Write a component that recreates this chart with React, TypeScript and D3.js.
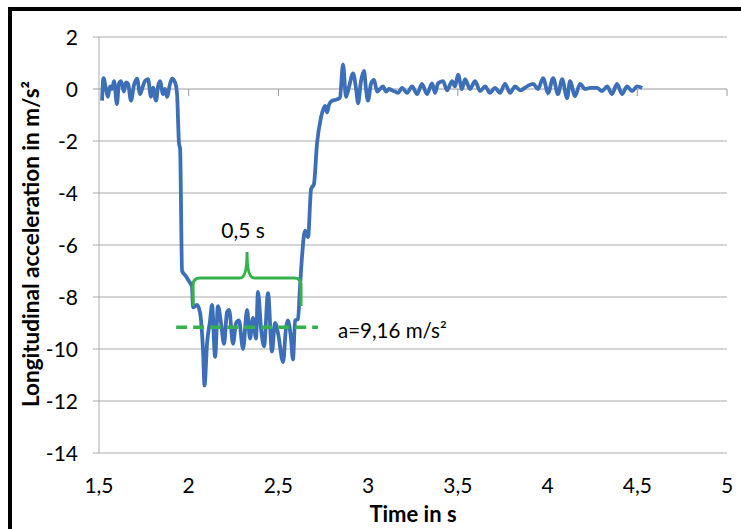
import React from "react";
import * as d3 from "d3";

const times: number[] = [
  1.517, 1.525, 1.539, 1.55, 1.561, 1.572, 1.584, 1.6, 1.611, 1.623, 1.639, 1.65, 1.662, 1.678, 1.695, 1.712,
  1.729, 1.74, 1.756, 1.773, 1.79, 1.801, 1.818, 1.829, 1.84, 1.857, 1.868, 1.879, 1.896, 1.907, 1.924, 1.935,
  1.946, 1.952, 1.963, 1.985, 2.002, 2.018, 2.024, 2.046, 2.063, 2.08, 2.088, 2.102, 2.119, 2.13, 2.147, 2.163,
  2.18, 2.197, 2.213, 2.225, 2.247, 2.264, 2.28, 2.303, 2.325, 2.342, 2.358, 2.375, 2.386, 2.403, 2.42, 2.442,
  2.464, 2.481, 2.498, 2.526, 2.542, 2.553, 2.57, 2.581, 2.593, 2.609, 2.62, 2.632, 2.648, 2.665, 2.682, 2.698,
  2.715, 2.737, 2.76, 2.771, 2.782, 2.799, 2.827, 2.843, 2.86, 2.877, 2.894, 2.916, 2.933, 2.944, 2.96, 2.977,
  2.988, 2.999, 3.016, 3.033, 3.05, 3.066, 3.083, 3.1, 3.116, 3.133, 3.15, 3.167, 3.189, 3.217, 3.245, 3.273,
  3.3, 3.328, 3.356, 3.373, 3.39, 3.417, 3.44, 3.468, 3.484, 3.501, 3.523, 3.54, 3.568, 3.596, 3.624, 3.652,
  3.679, 3.707, 3.735, 3.763, 3.791, 3.819, 3.847, 3.886, 3.919, 3.947, 3.975, 4.003, 4.031, 4.058, 4.081, 4.109,
  4.125, 4.153, 4.181, 4.209, 4.237, 4.276, 4.304, 4.332, 4.359, 4.387, 4.415, 4.443, 4.471, 4.499, 4.527,
];

const accel: number[] = [
  -0.45, 0.42, 0.0, -0.3, 0.1, 0.0, 0.3, -0.58, 0.2, 0.3, -0.1, 0.25, 0.2, -0.45, 0.15, 0.4,
  -0.2, 0.0, 0.3, 0.38, -0.3, 0.05, -0.45, 0.1, 0.3, -0.2, 0.0, -0.3, 0.2, 0.4, 0.25, -0.2,
  -2.1, -2.3, -7.0, -7.2, -7.4, -7.6, -8.4, -8.3, -8.6, -10.1, -11.4, -9.8, -8.9, -8.3, -10.3, -8.35,
  -9.0, -9.8, -8.6, -8.5, -9.8, -9.0, -8.9, -10.0, -8.5, -9.6, -8.8, -9.6, -7.8, -9.2, -9.9, -7.85,
  -10.1, -9.0, -9.4, -10.5, -9.2, -8.9, -9.6, -10.4, -8.9, -8.85, -7.65, -6.4, -5.45, -5.7, -3.85, -3.65,
  -2.1, -1.1, -0.65, -0.9, -0.6, -0.45, -0.4, -0.33, 0.95, -0.3, 0.1, 0.6, 0.0, -0.55, 0.3, 0.7,
  0.0, -0.45, 0.2, 0.35, -0.1, 0.0, 0.1, -0.1, 0.0, -0.05, -0.1, -0.15, 0.04, -0.15, 0.1, -0.2,
  0.2, -0.2, 0.22, -0.15, 0.22, 0.3, -0.05, 0.3, 0.1, 0.55, 0.0, 0.38, 0.0, 0.3, -0.08, 0.1,
  -0.15, 0.04, -0.15, 0.2, -0.15, 0.1, -0.05, 0.1, 0.2, 0.0, 0.42, -0.15, 0.42, -0.2, 0.38, -0.35,
  0.3, -0.27, 0.2, 0.0, 0.04, 0.04, -0.08, 0.1, -0.2, 0.2, -0.2, 0.1, -0.08, 0.1, 0.04,
];

const xTicks: number[] = [1.5, 2, 2.5, 3, 3.5, 4, 4.5, 5];
const yTicks: number[] = [-14, -12, -10, -8, -6, -4, -2, 0, 2];

const meanAccel = -9.16;
const bracketStart = 2.024;
const bracketEnd = 2.626;
const bracketTop = -7.27;
const bracketFoot = -8.35;
const bracketTip = -6.27;
const meanStart = 1.93;
const meanEnd = 2.72;

const durationLabel = "0,5 s";
const meanLabel = "a=9,16 m/s²";
const xTitle = "Time in s";
const yTitle = "Longitudinal acceleration in m/s²";

const W = 741;
const H = 529;
const FONT = "Lato, 'Open Sans', sans-serif";
const fmt = (v: number) => String(v).replace(".", ",");

export default function App() {
  const x = d3.scaleLinear().domain([1.5, 5]).range([99, 727]);
  const y = d3.scaleLinear().domain([-14, 2]).range([453, 37]);
  const pts = times.map((t, i) => [t, accel[i]] as [number, number]);
  const line = d3
    .line<[number, number]>()
    .x((d) => x(d[0]))
    .y((d) => y(d[1]))
    .curve(d3.curveMonotoneX);

  const green = "#35b24a";
  const bx0 = x(bracketStart);
  const bx1 = x(bracketEnd);
  const bxm = (bx0 + bx1) / 2;
  const by = y(bracketTop);
  const bf = y(bracketFoot);
  const bt = y(bracketTip);
  const r = 7;
  const brace = `M${bx0},${bf} V${by + r} Q${bx0},${by} ${bx0 + r},${by} H${bxm - r} Q${bxm},${by} ${bxm},${bt} Q${bxm},${by} ${bxm + r},${by} H${bx1 - r} Q${bx1},${by} ${bx1},${by + r} V${bf}`;

  return (
    <svg width={W} height={H} style={{ position: "absolute", left: 0, top: 0, background: "#fff" }}>
      <rect x={0} y={0} width={W} height={H} fill="#fff" />
      {/* grid */}
      {yTicks.map((v) => (
        <line key={"g" + v} x1={93} x2={x(5)} y1={y(v)} y2={y(v)} stroke={v === 0 ? "#9a9a9a" : "#ababab"} strokeWidth={1} />
      ))}
      <line x1={x(1.5)} x2={x(1.5)} y1={y(2)} y2={y(-14)} stroke="#ababab" strokeWidth={1} />
      {xTicks.slice(1).map((t) => (
        <line key={"xt" + t} x1={x(t)} x2={x(t)} y1={y(0)} y2={y(0) + 7} stroke="#9a9a9a" strokeWidth={1} />
      ))}
      {/* tick labels */}
      {yTicks.map((v) => (
        <text key={"yl" + v} x={78} y={y(v)} dy="0.36em" textAnchor="end" fontFamily={FONT} fontSize={21} fill="#000">
          {fmt(v)}
        </text>
      ))}
      {xTicks.map((t) => (
        <text key={"xl" + t} x={x(t)} y={493} textAnchor="middle" fontFamily={FONT} fontSize={21} fill="#000">
          {fmt(t)}
        </text>
      ))}
      <text x={413} y={522} textAnchor="middle" fontFamily={FONT} fontSize={22} fontWeight="bold" fill="#000">
        {xTitle}
      </text>
      <text
        transform={`translate(39,${244}) rotate(-90)`}
        textAnchor="middle"
        fontFamily={FONT}
        fontSize={22.5}
        fontWeight="bold"
        fill="#000"
      >
        {yTitle}
      </text>
      {/* data line */}
      <path d={line(pts) || ""} fill="none" stroke="#3c6fb8" strokeWidth={3.8} strokeLinejoin="round" />
      {/* annotations */}
      <path d={brace} fill="none" stroke={green} strokeWidth={3} />
      <line x1={x(meanStart)} x2={x(meanEnd)} y1={y(meanAccel)} y2={y(meanAccel)} stroke={green} strokeWidth={3.5} strokeDasharray="11,6" />
      <text x={bxm - 4} y={238} textAnchor="middle" fontFamily={FONT} fontSize={21} fill="#000">
        {durationLabel}
      </text>
      <text x={338} y={338} fontFamily={FONT} fontSize={20.5} fill="#000">
        {meanLabel}
      </text>
      {/* frame */}
      <rect x={10} y={9} width={W + 20} height={H + 20} fill="none" stroke="#000" strokeWidth={4} />
    </svg>
  );
}
